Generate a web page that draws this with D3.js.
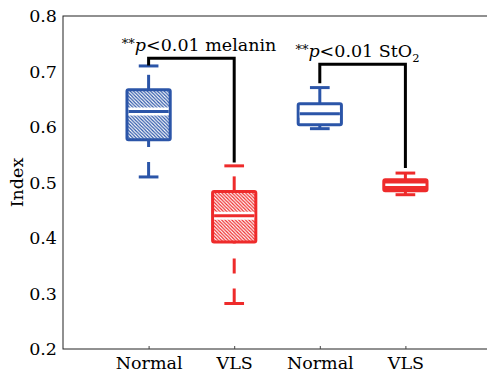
<!DOCTYPE html>
<html>
<head>
<meta charset="utf-8">
<script src="https://cdn.jsdelivr.net/npm/d3@7"></script>
<style>
  body { margin: 0; background: #fff; }
  svg text { font-family: "DejaVu Serif", serif; fill: #000; }
</style>
</head>
<body>
<svg id="chart" width="487" height="375"></svg>
<script>
// groups along x
const categories = ["Normal", "VLS", "Normal", "VLS"];
const upperWhisker = [0.710, 0.530, 0.671, 0.517];
const q3 = [0.667, 0.484, 0.642, 0.505];
const median = [0.628, 0.440, 0.624, 0.496];
const q1 = [0.577, 0.393, 0.604, 0.485];
const lowerWhisker = [0.510, 0.282, 0.597, 0.478];
const yTicks = [0.2, 0.3, 0.4, 0.5, 0.6, 0.7, 0.8];

// significance brackets: group pairs, top height and end heights
const bracketPairs = [[1, 2], [3, 4]];
const bracketTop = [0.724, 0.713];
const bracketLeftEnd = [0.711, 0.679];
const bracketRightEnd = [0.536, 0.526];
const bracketLabel = ["melanin", "StO"];
const labelX = [1.59, 3.44];

const BLUE = "#2b55a8", RED = "#ee2b2b";
const boxColor = [BLUE, RED, BLUE, RED];
const boxFill = ["hatch", "hatch", "white", "solid"];

const svg = d3.select("#chart");
const margin = {left: 63, top: 16, right: -4, bottom: 26};
const W = 487, H = 375;
const FS = 17.5;

const x = d3.scaleLinear().domain([0, 5]).range([margin.left, W - margin.right]);
const y = d3.scaleLinear().domain([0.2, 0.8]).range([H - margin.bottom, margin.top]);

// hatch patterns
const defs = svg.append("defs");
[["hb", BLUE], ["hr", RED]].forEach(([id, c]) => {
  const p = defs.append("pattern").attr("id", id)
    .attr("patternUnits", "userSpaceOnUse").attr("width", 3.4).attr("height", 3.4);
  p.append("rect").attr("width", 3.4).attr("height", 3.4).attr("fill", c);
  p.append("path").attr("d", "M-1,-1L4.4,4.4M2.4,-1L4.4,1M-1,2.4L1,4.4")
    .attr("stroke", "#fff").attr("stroke-width", 1.2);
});

// frame
svg.append("rect").attr("x", x(0)).attr("y", y(0.8))
  .attr("width", x(5) - x(0)).attr("height", y(0.2) - y(0.8))
  .attr("fill", "none").attr("stroke", "#222").attr("stroke-width", 1);

const xAxis = d3.axisBottom(x).tickValues([1, 2, 3, 4])
  .tickFormat((d, i) => categories[i]).tickSizeInner(-3).tickSizeOuter(0).tickPadding(8);
const gx = svg.append("g").attr("transform", `translate(0,${y(0.2)})`).call(xAxis);
gx.select(".domain").remove();
gx.selectAll(".tick line").attr("stroke", "#444");
gx.selectAll("text").attr("font-size", FS).attr("dy", "0.71em");

const yAxis = d3.axisLeft(y).tickValues(yTicks).tickFormat(d3.format(".1f"))
  .tickSize(0).tickPadding(6);
const gy = svg.append("g").attr("transform", `translate(${x(0)},0)`).call(yAxis);
gy.select(".domain").remove();
gy.selectAll("text").attr("font-size", FS);

svg.append("text").attr("transform", `translate(23,${(y(0.2) + y(0.8)) / 2}) rotate(-90)`)
  .attr("text-anchor", "middle").attr("font-size", FS).text("Index");

// boxes
const boxW = 0.505, capW = 0.23;
const boxes = svg.append("g");
categories.forEach((c, i) => {
  const g = boxes.append("g");
  const cx = x(i + 1), col = boxColor[i];
  // whiskers: upper drawn from box upward, lower from cap upward
  g.append("line").attr("x1", cx).attr("x2", cx)
    .attr("y1", y(q3[i])).attr("y2", y(upperWhisker[i]))
    .attr("stroke", col).attr("stroke-width", 3).attr("stroke-dasharray", "15,15");
  g.append("line").attr("x1", cx).attr("x2", cx)
    .attr("y1", y(lowerWhisker[i])).attr("y2", y(q1[i]))
    .attr("stroke", col).attr("stroke-width", 3).attr("stroke-dasharray", "15,15");
  [upperWhisker[i], lowerWhisker[i]].forEach(v => {
    g.append("line").attr("x1", x(i + 1 - capW / 2)).attr("x2", x(i + 1 + capW / 2))
      .attr("y1", y(v)).attr("y2", y(v)).attr("stroke", col).attr("stroke-width", 3);
  });
  const fill = boxFill[i] === "hatch" ? (col === BLUE ? "url(#hb)" : "url(#hr)")
    : boxFill[i] === "solid" ? col : "#fff";
  g.append("rect").attr("x", x(i + 1 - boxW / 2)).attr("width", x(boxW) - x(0))
    .attr("y", y(q3[i])).attr("height", y(q1[i]) - y(q3[i]))
    .attr("rx", 1.5).attr("fill", fill).attr("stroke", col).attr("stroke-width", 3)
    .attr("stroke-linejoin", "round");
  const mx1 = x(i + 1 - boxW / 2) + 1.5, mx2 = x(i + 1 + boxW / 2) - 1.5;
  if (boxFill[i] === "solid") {
    g.append("line").attr("x1", mx1).attr("x2", mx2)
      .attr("y1", y(median[i])).attr("y2", y(median[i]))
      .attr("stroke", "#fff").attr("stroke-width", 2.5);
  } else {
    g.append("line").attr("x1", mx1).attr("x2", mx2)
      .attr("y1", y(median[i])).attr("y2", y(median[i]))
      .attr("stroke", "#fff").attr("stroke-width", 8);
    g.append("line").attr("x1", mx1).attr("x2", mx2)
      .attr("y1", y(median[i])).attr("y2", y(median[i]))
      .attr("stroke", col).attr("stroke-width", 3);
  }
});

// brackets
bracketPairs.forEach(([a, b], i) => {
  const path = d3.path();
  path.moveTo(x(a), y(bracketLeftEnd[i]));
  path.lineTo(x(a), y(bracketTop[i]));
  path.lineTo(x(b), y(bracketTop[i]));
  path.lineTo(x(b), y(bracketRightEnd[i]));
  svg.append("path").attr("d", path.toString()).attr("fill", "none")
    .attr("stroke", "#000").attr("stroke-width", 3).attr("stroke-linejoin", "miter");

  const t = svg.append("text").attr("x", x(labelX[i])).attr("y", y(bracketTop[i]) - 7)
    .attr("text-anchor", "middle").attr("font-size", FS);
  t.append("tspan").attr("font-size", 13).attr("dy", -3).text("**");
  t.append("tspan").attr("font-style", "italic").attr("dy", 3).text("p");
  t.append("tspan").text("<0.01 " + bracketLabel[i]);
  if (bracketLabel[i] === "StO") {
    t.append("tspan").attr("font-size", 11.5).attr("dy", 5).text("2");
  }
});
</script>
</body>
</html>
